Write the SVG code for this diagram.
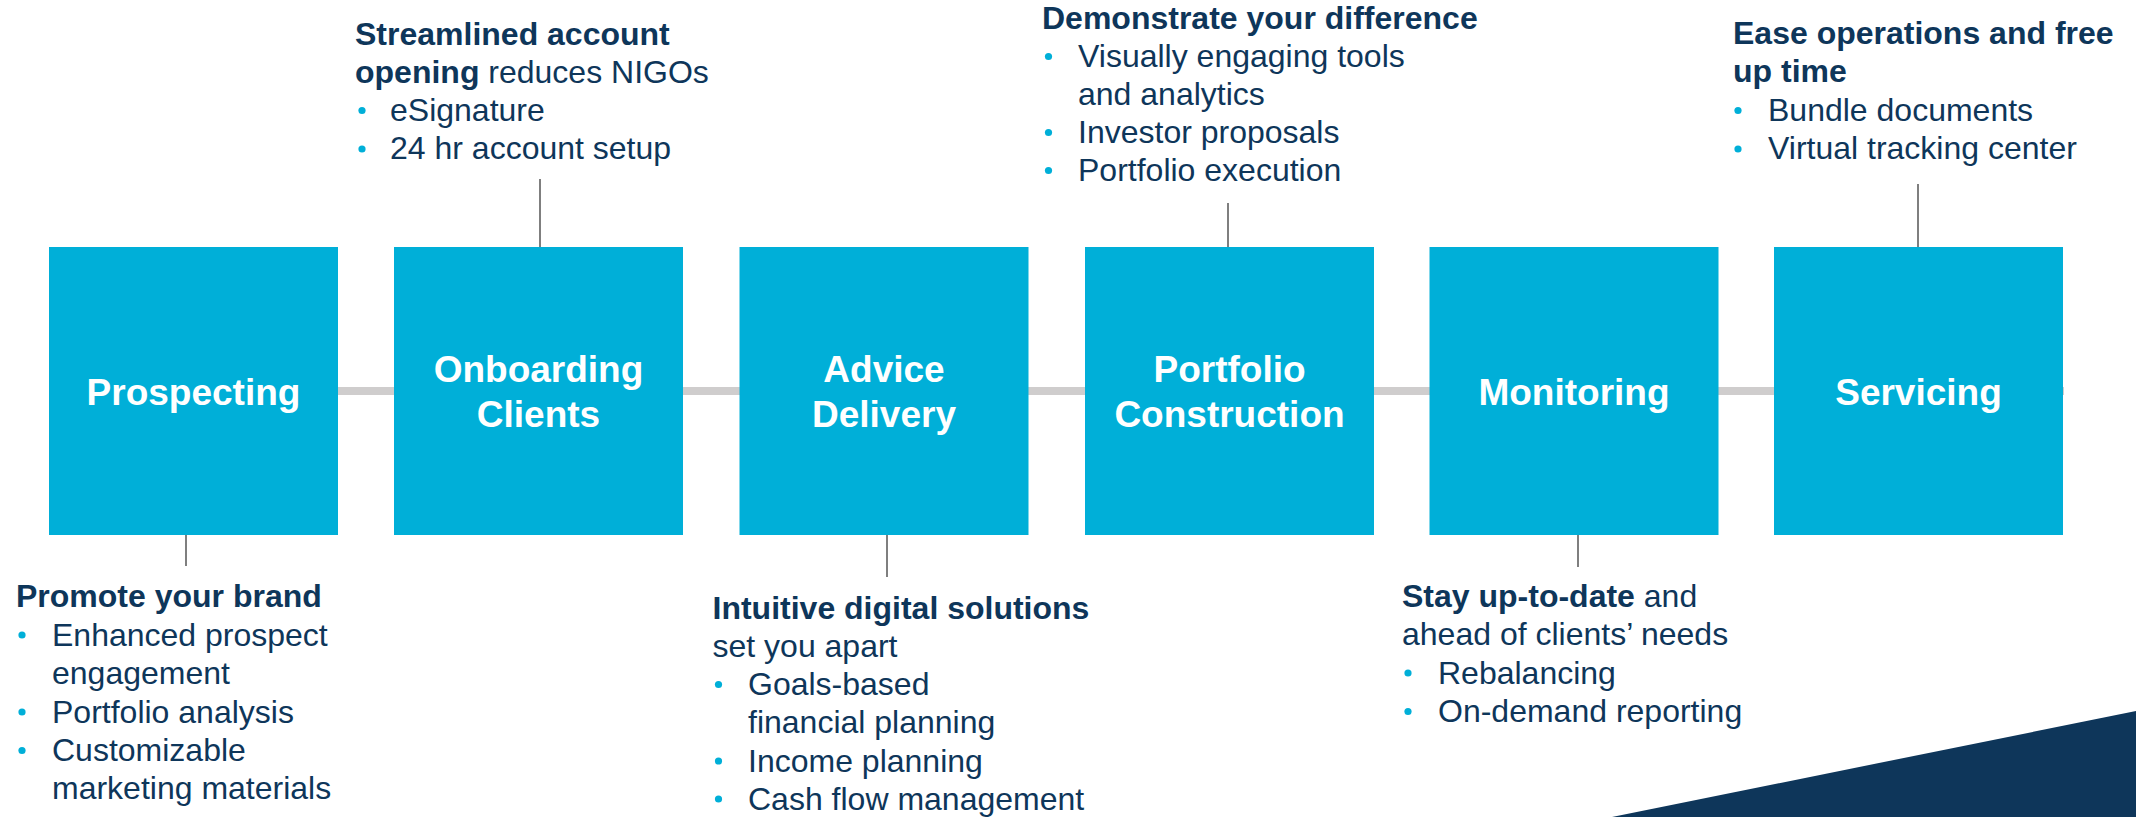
<svg xmlns="http://www.w3.org/2000/svg" width="2136" height="817" viewBox="0 0 2136 817">
<style>
.box{fill:#00AFD8}
.lbl{font-family:"Liberation Sans",Arial,sans-serif;font-weight:bold;font-size:37px;fill:#ffffff;text-anchor:middle}
.t{font-family:"Liberation Sans",Arial,sans-serif;font-size:32px;fill:#0E365A}
.b{font-weight:bold}
.dot{fill:#00AFD8}
.tick{stroke:#7F7F7F;stroke-width:2;fill:none}
.rail{stroke:#CFCDCD;stroke-width:8;fill:none}
</style>
<rect width="2136" height="817" fill="#ffffff"/>
<polygon points="1612,817 2136,711 2136,817" fill="#0E365A"/>

<g id="connectors">
<line class="rail" x1="338" y1="391" x2="2064" y2="391"/>
<line class="tick" x1="540" y1="179" x2="540" y2="247"/>
<line class="tick" x1="1228" y1="203" x2="1228" y2="247"/>
<line class="tick" x1="1918" y1="184" x2="1918" y2="247"/>
<line class="tick" x1="186" y1="535" x2="186" y2="566"/>
<line class="tick" x1="887" y1="535" x2="887" y2="577"/>
<line class="tick" x1="1578" y1="535" x2="1578" y2="567"/>
</g>

<g id="node-prospecting">
<rect class="box" x="49" y="247" width="289" height="288"/>
<text class="lbl" x="193.5" y="405">Prospecting</text>
</g>
<g id="node-onboarding">
<rect class="box" x="394" y="247" width="289" height="288"/>
<text class="lbl" x="538.5" y="382">Onboarding</text>
<text class="lbl" x="538.5" y="427">Clients</text>
</g>
<g id="node-advice">
<rect class="box" x="739.5" y="247" width="289" height="288"/>
<text class="lbl" x="884" y="382">Advice</text>
<text class="lbl" x="884" y="427">Delivery</text>
</g>
<g id="node-portfolio">
<rect class="box" x="1085" y="247" width="289" height="288"/>
<text class="lbl" x="1229.5" y="382">Portfolio</text>
<text class="lbl" x="1229.5" y="427">Construction</text>
</g>
<g id="node-monitoring">
<rect class="box" x="1429.5" y="247" width="289" height="288"/>
<text class="lbl" x="1574" y="405">Monitoring</text>
</g>
<g id="node-servicing">
<rect class="box" x="1774" y="247" width="289" height="288"/>
<text class="lbl" x="1918.5" y="405">Servicing</text>
</g>

<g id="note-onboarding">
<text class="t b" x="355" y="44.5">Streamlined account</text>
<text class="t" x="355" y="82.8"><tspan class="b">opening</tspan> reduces NIGOs</text>
<circle class="dot" cx="362" cy="110.5" r="3.6"/>
<text class="t" x="390" y="121">eSignature</text>
<circle class="dot" cx="362" cy="149" r="3.6"/>
<text class="t" x="390" y="159.4">24 hr account setup</text>
</g>

<g id="note-portfolio">
<text class="t b" x="1042" y="29">Demonstrate your difference</text>
<circle class="dot" cx="1048.5" cy="56.5" r="3.6"/>
<text class="t" x="1078" y="67">Visually engaging tools</text>
<text class="t" x="1078" y="105">and analytics</text>
<circle class="dot" cx="1048.5" cy="132.5" r="3.6"/>
<text class="t" x="1078" y="143">Investor proposals</text>
<circle class="dot" cx="1048.5" cy="170.5" r="3.6"/>
<text class="t" x="1078" y="181">Portfolio execution</text>
</g>

<g id="note-servicing">
<text class="t b" x="1733" y="44">Ease operations and free</text>
<text class="t b" x="1733" y="82.3">up time</text>
<circle class="dot" cx="1738" cy="110.5" r="3.6"/>
<text class="t" x="1768" y="121">Bundle documents</text>
<circle class="dot" cx="1738" cy="149" r="3.6"/>
<text class="t" x="1768" y="159.4">Virtual tracking center</text>
</g>

<g id="note-prospecting">
<text class="t b" x="16" y="607">Promote your brand</text>
<circle class="dot" cx="22" cy="635" r="3.6"/>
<text class="t" x="52" y="645.5">Enhanced prospect</text>
<text class="t" x="52" y="684">engagement</text>
<circle class="dot" cx="22" cy="712" r="3.6"/>
<text class="t" x="52" y="722.5">Portfolio analysis</text>
<circle class="dot" cx="22" cy="750.5" r="3.6"/>
<text class="t" x="52" y="761">Customizable</text>
<text class="t" x="52" y="799">marketing materials</text>
</g>

<g id="note-advice">
<text class="t b" x="712.5" y="618.5">Intuitive digital solutions</text>
<text class="t" x="712.5" y="656.8">set you apart</text>
<circle class="dot" cx="718.5" cy="684.5" r="3.6"/>
<text class="t" x="748" y="695">Goals-based</text>
<text class="t" x="748" y="733.3">financial planning</text>
<circle class="dot" cx="718.5" cy="761" r="3.6"/>
<text class="t" x="748" y="771.5">Income planning</text>
<circle class="dot" cx="718.5" cy="799" r="3.6"/>
<text class="t" x="748" y="809.5">Cash flow management</text>
</g>

<g id="note-monitoring">
<text class="t" x="1402" y="606.5"><tspan class="b">Stay up-to-date</tspan> and</text>
<text class="t" x="1402" y="645">ahead of clients’ needs</text>
<circle class="dot" cx="1408" cy="673" r="3.6"/>
<text class="t" x="1438" y="683.5">Rebalancing</text>
<circle class="dot" cx="1408" cy="711.5" r="3.6"/>
<text class="t" x="1438" y="722">On-demand reporting</text>
</g>
</svg>
